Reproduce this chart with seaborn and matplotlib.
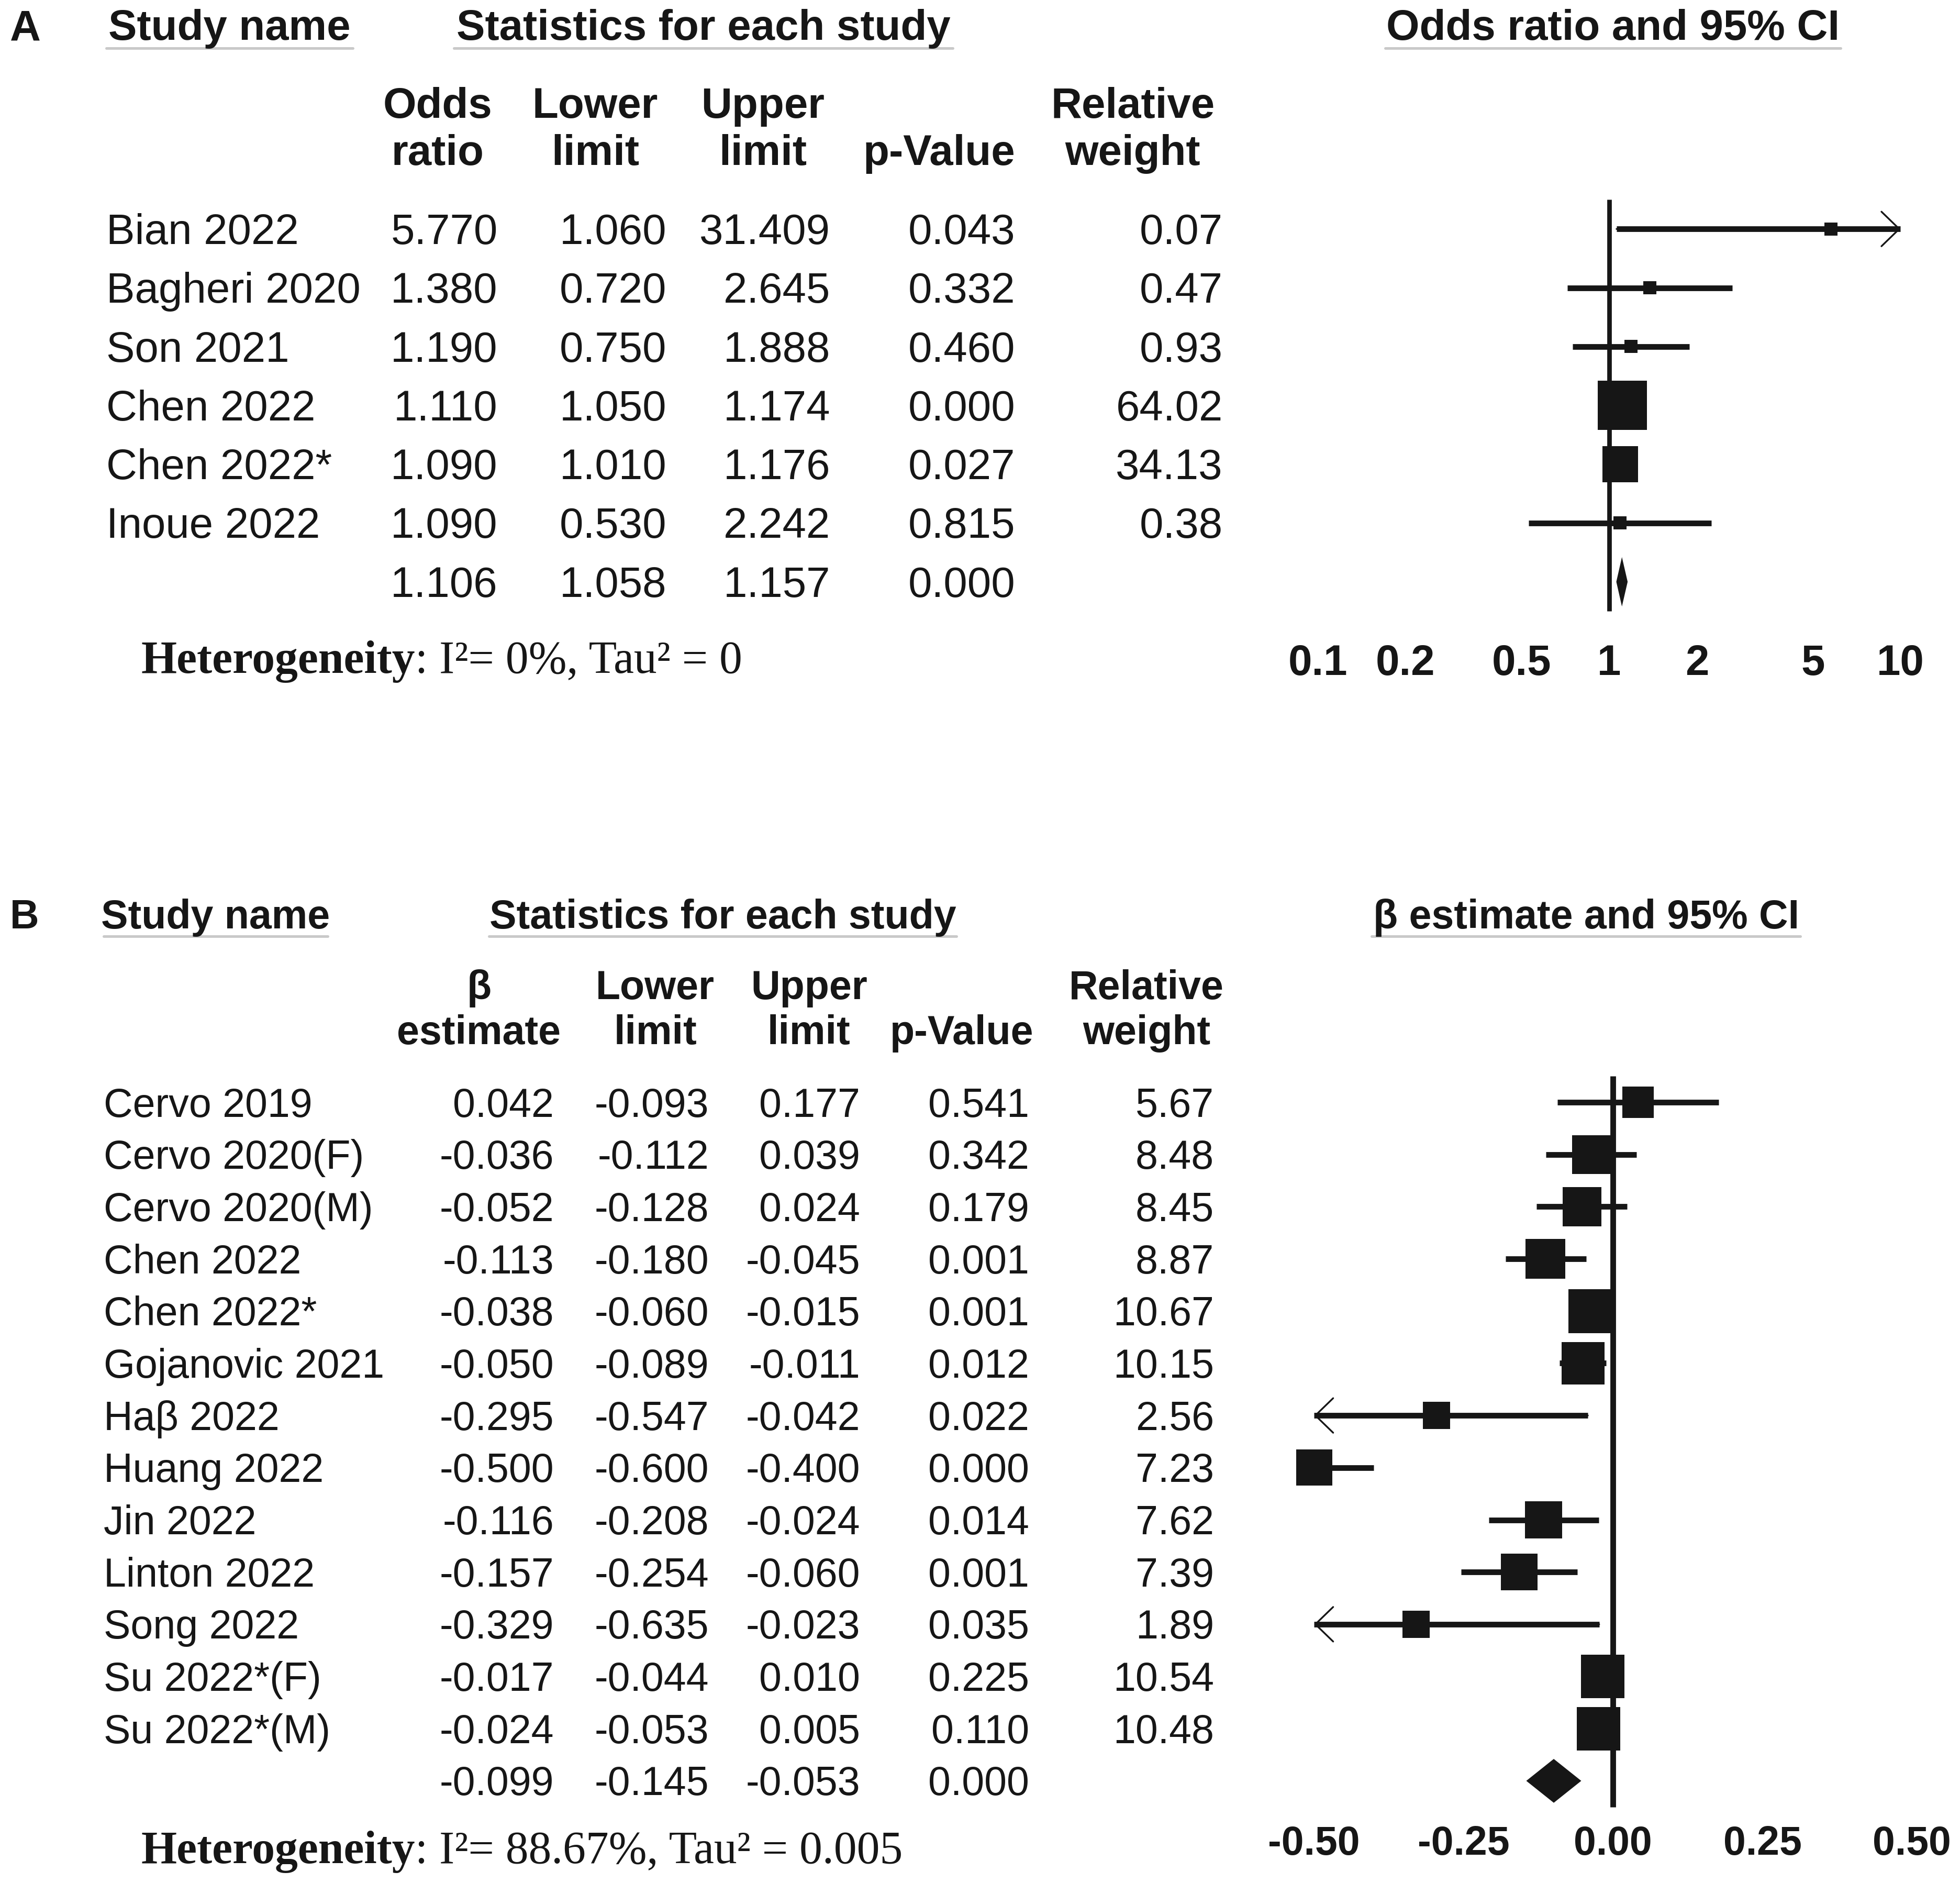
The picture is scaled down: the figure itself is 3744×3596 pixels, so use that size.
import numpy as np
import pandas as pd
import seaborn as sns
import matplotlib.pyplot as plt
from matplotlib.lines import Line2D
from matplotlib.ticker import NullLocator

# ---- panel A : odds ratios ----
a_names = ['Bian 2022', 'Bagheri 2020', 'Son 2021', 'Chen 2022', 'Chen 2022*', 'Inoue 2022']
a_or = [5.770, 1.380, 1.190, 1.110, 1.090, 1.090]
a_lower = [1.060, 0.720, 0.750, 1.050, 1.010, 0.530]
a_upper = [31.409, 2.645, 1.888, 1.174, 1.176, 2.242]
a_p = [0.043, 0.332, 0.460, 0.000, 0.027, 0.815]
a_weight = [0.07, 0.47, 0.93, 64.02, 34.13, 0.38]
a_pooled = [1.106, 1.058, 1.157, 0.000]   # estimate, lower, upper, p
a_head_top = ['Odds', 'Lower', 'Upper', '', 'Relative']
a_head_bot = ['ratio', 'limit', 'limit', 'p-Value', 'weight']
a_ticks = [0.1, 0.2, 0.5, 1, 2, 5, 10]
a_tick_labels = ['0.1', '0.2', '0.5', '1', '2', '5', '10']
a_het = ': I\u00b2= 0%, Tau\u00b2 = 0'

# ---- panel B : beta estimates ----
b_names = ['Cervo 2019', 'Cervo 2020(F)', 'Cervo 2020(M)', 'Chen 2022', 'Chen 2022*',
           'Gojanovic 2021', 'Ha\u03b2 2022', 'Huang 2022', 'Jin 2022', 'Linton 2022',
           'Song 2022', 'Su 2022*(F)', 'Su 2022*(M)']
b_beta = [0.042, -0.036, -0.052, -0.113, -0.038, -0.050, -0.295, -0.500, -0.116, -0.157,
          -0.329, -0.017, -0.024]
b_lower = [-0.093, -0.112, -0.128, -0.180, -0.060, -0.089, -0.547, -0.600, -0.208, -0.254,
           -0.635, -0.044, -0.053]
b_upper = [0.177, 0.039, 0.024, -0.045, -0.015, -0.011, -0.042, -0.400, -0.024, -0.060,
           -0.023, 0.010, 0.005]
b_p = [0.541, 0.342, 0.179, 0.001, 0.001, 0.012, 0.022, 0.000, 0.014, 0.001, 0.035, 0.225, 0.110]
b_weight = [5.67, 8.48, 8.45, 8.87, 10.67, 10.15, 2.56, 7.23, 7.62, 7.39, 1.89, 10.54, 10.48]
b_pooled = [-0.099, -0.145, -0.053, 0.000]
b_head_top = ['\u03b2', 'Lower', 'Upper', '', 'Relative']
b_head_bot = ['estimate', 'limit', 'limit', 'p-Value', 'weight']
b_ticks = [-0.50, -0.25, 0.00, 0.25, 0.50]
b_tick_labels = ['-0.50', '-0.25', '0.00', '0.25', '0.50']
b_het = ': I\u00b2= 88.67%, Tau\u00b2 = 0.005'

INK = '#161616'
RULE = '#c9c9c9'

sns.set_theme(style='white')
plt.rcParams['font.family'] = ['Liberation Sans', 'DejaVu Sans']
plt.rcParams['text.color'] = INK

# layout grid: 1568 x 1505 units over the 3745 x 3596 px canvas
W, H = 1568, 1505
DPI = 300
PX = 3745 / W                 # canvas px per layout unit

fig = plt.figure(figsize=(3745 / DPI, 3596 / DPI), dpi=DPI)
bg = fig.add_axes([0, 0, 1, 1])
bg.set_xlim(0, W)
bg.set_ylim(H, 0)
bg.axis('off')


def place(x0, x1, y0, y1):
    return fig.add_axes([x0 / W, 1 - y1 / H, (x1 - x0) / W, (y1 - y0) / H])


def table(names, cols, head_top, head_bot, fmt, cfg):
    fs = cfg['fs']
    for txt, x0, x1, y in cfg['titles']:
        bg.text((x0 + x1) / 2, y, txt, ha='center', va='baseline', fontsize=fs, fontweight='bold')
        bg.add_line(Line2D([x0, x1], [y + 6.5, y + 6.5], color=RULE, lw=1.2, zorder=0))
    bg.text(8, cfg['titles'][0][3], cfg['label'], ha='left', va='baseline', fontsize=fs,
            fontweight='bold')
    for t, b, xc in zip(head_top, head_bot, cfg['head_x']):
        bg.text(xc, cfg['head_y'][0], t, ha='center', va='baseline', fontsize=fs, fontweight='bold')
        bg.text(xc, cfg['head_y'][1], b, ha='center', va='baseline', fontsize=fs, fontweight='bold')
    y0, dy = cfg['row0'], cfg['dy']
    for i, name in enumerate(names):
        bg.text(cfg['name_x'], y0 + i * dy, name, ha='left', va='baseline', fontsize=fs)
    for col, f, xr in zip(cols, fmt, cfg['col_x']):
        for i, v in enumerate(col):
            bg.text(xr, y0 + i * dy, f % v, ha='right', va='baseline', fontsize=fs)
    het = bg.text(113, cfg['het_y'], 'Heterogeneity', ha='left', va='baseline',
                  fontsize=21, fontweight='bold', family='Liberation Serif')
    bg.annotate(cfg['het'], xy=(1, 0), xycoords=het, ha='left', va='bottom',
                fontsize=21, family='Liberation Serif')


def forest(ax, est, lower, upper, weight, pooled, lim, ref, side_min, side_k, lw, vlw):
    n = len(est)
    rows = np.arange(n)
    lo = np.clip(lower, lim[0], lim[1])
    hi = np.clip(upper, lim[0], lim[1])
    ax.vlines(ref, -0.5, n + 0.5, color=INK, lw=vlw, zorder=2)
    ax.hlines(rows, lo, hi, color=INK, lw=lw, zorder=2)
    for r in rows:
        for end, other, cut in ((hi[r], lo[r], upper[r] > lim[1] and est[r] < lim[1]),
                                (lo[r], hi[r], lower[r] < lim[0] and est[r] > lim[0])):
            if cut:
                ax.annotate('', xy=(end, r), xytext=(other, r),
                            arrowprops=dict(arrowstyle='->,head_length=0.68,head_width=0.66',
                                            lw=0.8, color=INK, shrinkA=0, shrinkB=0))
    side_px = np.maximum(side_min, side_k * np.sqrt(weight)) * PX
    df = pd.DataFrame({'est': est, 'row': rows})
    sns.scatterplot(data=df, x='est', y='row', marker='s', s=(side_px * 72 / DPI) ** 2,
                    color=INK, linewidth=0, ax=ax, legend=False, zorder=3, clip_on=False)
    e, l, u = pooled[:3]
    h = 0.42
    ax.fill([l, e, u, e], [n, n - h, n, n + h], color=INK, lw=0, zorder=3)
    ax.set_xlabel('')
    ax.set_ylabel('')
    ax.set_yticks([])
    for s in ax.spines.values():
        s.set_visible(False)


# ---- panel A ----
a_cols = [a_or + [a_pooled[0]], a_lower + [a_pooled[1]], a_upper + [a_pooled[2]],
          a_p + [a_pooled[3]], a_weight]
table(a_names, a_cols, a_head_top, a_head_bot, ['%.3f', '%.3f', '%.3f', '%.3f', '%.2f'],
      dict(fs=19.6, label='A',
           titles=[('Study name', 85, 282, 32), ('Statistics for each study', 363, 762, 32),
                   ('Odds ratio and 95% CI', 1108, 1472, 32)],
           head_x=[350, 476, 610, 751, 906], head_y=[94, 132],
           name_x=85, col_x=[398, 533, 664, 812, 978], row0=195, dy=47,
           het_y=538, het=a_het))

axA = place(1040, 1545, 150, 500)
axA.set_xscale('log')
axA.set_xlim(10 ** ((1040 - 1287) / 233), 10 ** ((1545 - 1287) / 233))
axA.set_ylim((500 - 183) / 47, (150 - 183) / 47)
forest(axA, a_or, a_lower, a_upper, a_weight, a_pooled, (0.1, 10), 1,
       side_min=10.5, side_k=4.9, lw=2.6, vlw=2.1)
axA.xaxis.set_minor_locator(NullLocator())
axA.set_xticks(a_ticks)
axA.set_xticklabels(a_tick_labels, fontsize=19.6, fontweight='bold')
axA.tick_params(axis='x', length=0, pad=8.5, colors=INK)

# ---- panel B ----
b_cols = [b_beta + [b_pooled[0]], b_lower + [b_pooled[1]], b_upper + [b_pooled[2]],
          b_p + [b_pooled[3]], b_weight]
table(b_names, b_cols, b_head_top, b_head_bot, ['%.3f', '%.3f', '%.3f', '%.3f', '%.2f'],
      dict(fs=18.5, label='B',
           titles=[('Study name', 83, 262, 742), ('Statistics for each study', 391, 765, 742),
                   ('\u03b2 estimate and 95% CI', 1097, 1440, 742)],
           head_x=[383, 524, 647, 769, 917], head_y=[798.5, 834.5],
           name_x=83, col_x=[443, 567, 688, 823, 971], row0=892.5, dy=41.72,
           het_y=1489, het=b_het))

axB = place(1030, 1565, 855, 1450)
axB.set_xlim((1030 - 1290) / 478, (1565 - 1290) / 478)
axB.set_ylim((1450 - 881) / 41.72, (855 - 881) / 41.72)
forest(axB, b_beta, b_lower, b_upper, b_weight, b_pooled, (-0.5, 0.5), 0,
       side_min=21.8, side_k=10.7, lw=2.6, vlw=2.6)
axB.set_xticks(b_ticks)
axB.set_xticklabels(b_tick_labels, fontsize=18.5, fontweight='bold')
axB.tick_params(axis='x', length=0, pad=4.8, colors=INK)

fig.savefig('out.png', dpi=DPI, facecolor='white')
